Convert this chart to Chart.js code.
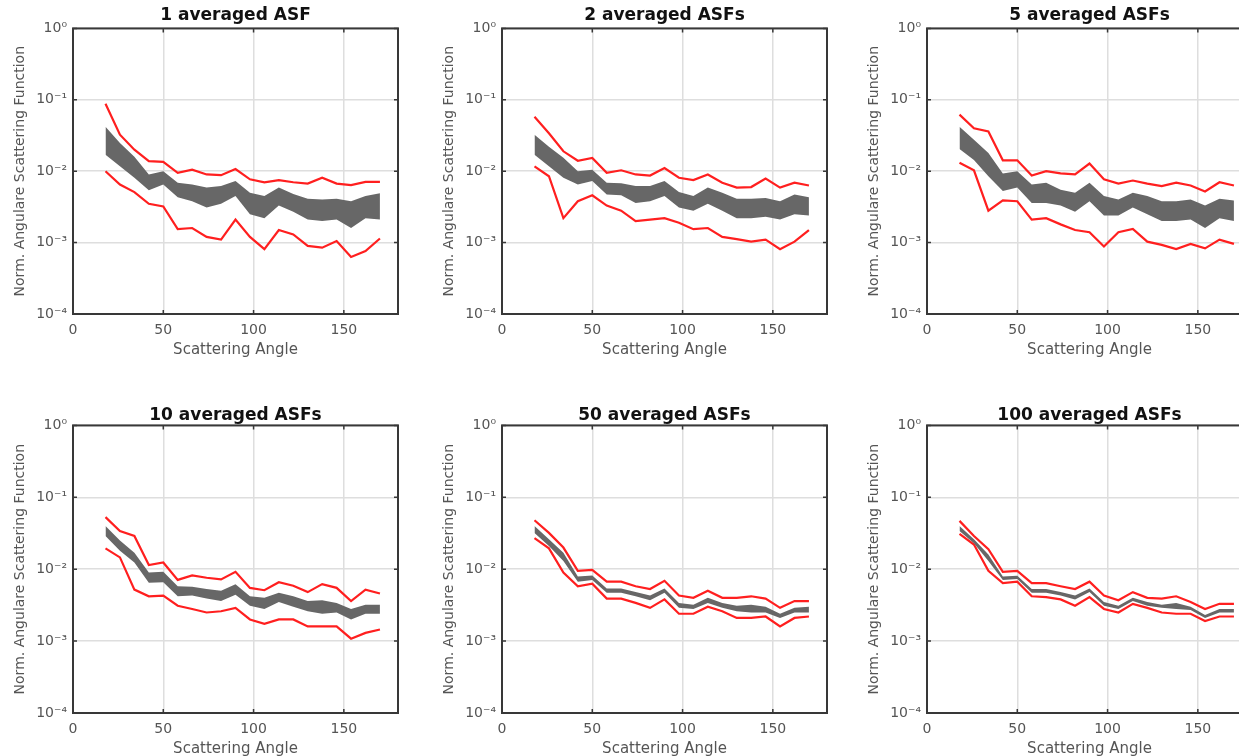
<!DOCTYPE html>
<html>
<head>
<meta charset="utf-8">
<title>Averaged ASF comparison</title>
<script src="https://cdn.jsdelivr.net/npm/chart.js@4.4.1/dist/chart.umd.min.js"></script>
<style>
  html, body { margin: 0; padding: 0; background: #fff; overflow: hidden; }
  #wrap { position: relative; width: 1239px; height: 756px; overflow: hidden; }
  #wrap canvas { position: absolute; }
</style>
</head>
<body>
<div id="wrap"></div>
<script>
// scattering angles (deg)
const angles = [18, 26, 34, 42, 50, 58, 66, 74, 82, 90, 98, 106, 114, 122, 130, 138, 146, 154, 162, 170];

const yTicks = [1e-4, 1e-3, 1e-2, 1e-1, 1];
const yTickLabels = ['10⁻⁴', '10⁻³', '10⁻²', '10⁻¹', '10⁰'];
const xTicks = [0, 50, 100, 150];

const titles = ['1 averaged ASF', '2 averaged ASFs', '5 averaged ASFs', '10 averaged ASFs', '50 averaged ASFs', '100 averaged ASFs'];

// 1 averaged
const asf1Max = [0.088, 0.0325, 0.020, 0.0138, 0.0135, 0.0095, 0.0105, 0.0090, 0.0088, 0.0107, 0.0077, 0.0070, 0.0075, 0.0070, 0.0067, 0.0081, 0.0067, 0.0064, 0.0071, 0.0071];
const asf1Min = [0.0100, 0.0065, 0.0051, 0.0035, 0.0032, 0.00154, 0.0016, 0.0012, 0.0011, 0.0021, 0.0012, 0.00081, 0.0015, 0.0013, 0.00090, 0.00085, 0.00105, 0.00063, 0.00076, 0.00114];
const asf1BandHi = [0.042, 0.0248, 0.016, 0.0090, 0.010, 0.0069, 0.0065, 0.0059, 0.0062, 0.0073, 0.0050, 0.0045, 0.0059, 0.0048, 0.0041, 0.0040, 0.0041, 0.0038, 0.0045, 0.0049];
const asf1BandLo = [0.017, 0.0117, 0.0081, 0.0054, 0.0065, 0.0043, 0.0038, 0.0031, 0.0035, 0.0045, 0.0025, 0.0022, 0.0033, 0.0027, 0.0021, 0.0020, 0.0021, 0.0016, 0.0022, 0.0021];

// 2 averaged
const asf2Max = [0.058, 0.034, 0.019, 0.014, 0.0153, 0.0095, 0.0103, 0.0090, 0.0087, 0.0111, 0.0081, 0.0075, 0.0090, 0.0069, 0.0059, 0.0060, 0.0079, 0.0059, 0.0069, 0.0063];
const asf2Min = [0.0117, 0.0085, 0.0022, 0.0038, 0.0046, 0.0033, 0.0028, 0.0020, 0.0021, 0.0022, 0.0019, 0.00154, 0.0016, 0.0012, 0.00112, 0.00103, 0.0011, 0.00081, 0.00103, 0.0015];
const asf2BandHi = [0.0323, 0.022, 0.0154, 0.010, 0.0105, 0.0069, 0.0068, 0.0062, 0.0062, 0.0073, 0.0051, 0.0045, 0.0059, 0.0050, 0.0041, 0.0041, 0.0042, 0.0038, 0.0047, 0.0043];
const asf2BandLo = [0.017, 0.0117, 0.0081, 0.0065, 0.0073, 0.0047, 0.0046, 0.0036, 0.0038, 0.0045, 0.0031, 0.0028, 0.0035, 0.0028, 0.0022, 0.0022, 0.0023, 0.0021, 0.0025, 0.0024];

// 5 averaged
const asf5Max = [0.062, 0.040, 0.036, 0.0142, 0.0142, 0.0087, 0.010, 0.0093, 0.009, 0.0128, 0.0077, 0.0067, 0.0074, 0.0067, 0.0062, 0.0069, 0.0063, 0.0052, 0.0070, 0.0063];
const asf5Min = [0.0131, 0.0103, 0.0028, 0.0039, 0.0038, 0.0021, 0.0022, 0.0018, 0.0015, 0.0014, 0.00088, 0.0014, 0.00155, 0.00103, 0.00093, 0.00081, 0.00096, 0.00083, 0.0011, 0.00096];
const asf5BandHi = [0.042, 0.0276, 0.018, 0.0093, 0.010, 0.0065, 0.0069, 0.0055, 0.0050, 0.0069, 0.0045, 0.0040, 0.0050, 0.0045, 0.0038, 0.0038, 0.0040, 0.0033, 0.0041, 0.0039];
const asf5BandLo = [0.0205, 0.0144, 0.0085, 0.0053, 0.0059, 0.0036, 0.0036, 0.0033, 0.0027, 0.0038, 0.0024, 0.0024, 0.0031, 0.0025, 0.0020, 0.0020, 0.0021, 0.0016, 0.0022, 0.0020];

// 10 averaged
const asf10Max = [0.053, 0.034, 0.029, 0.0114, 0.0124, 0.0071, 0.0082, 0.0076, 0.0072, 0.0092, 0.0055, 0.0051, 0.0066, 0.0059, 0.0048, 0.0062, 0.0055, 0.0036, 0.0052, 0.0046];
const asf10Min = [0.0195, 0.0146, 0.0052, 0.0042, 0.0043, 0.0031, 0.0028, 0.0025, 0.0026, 0.0029, 0.0020, 0.00174, 0.0020, 0.0020, 0.0016, 0.0016, 0.0016, 0.00108, 0.0013, 0.00145];
const asf10BandHi = [0.040, 0.025, 0.017, 0.0090, 0.0092, 0.0058, 0.0057, 0.0053, 0.0050, 0.0062, 0.0042, 0.0040, 0.0047, 0.0042, 0.0036, 0.0037, 0.0034, 0.0028, 0.0032, 0.0032];
const asf10BandLo = [0.029, 0.018, 0.0124, 0.0065, 0.0066, 0.0042, 0.0043, 0.0039, 0.0036, 0.0044, 0.0031, 0.0028, 0.0035, 0.0030, 0.0026, 0.0024, 0.0025, 0.0020, 0.0024, 0.0024];

// 50 averaged
const asf50Max = [0.048, 0.032, 0.020, 0.0095, 0.0098, 0.0067, 0.0067, 0.0058, 0.0053, 0.0069, 0.0043, 0.0040, 0.0050, 0.0040, 0.0040, 0.0042, 0.0039, 0.0029, 0.0036, 0.0036];
const asf50Min = [0.027, 0.0195, 0.0090, 0.0058, 0.0063, 0.0039, 0.0039, 0.0034, 0.0029, 0.0038, 0.0024, 0.0024, 0.0030, 0.0026, 0.0021, 0.0021, 0.0022, 0.0016, 0.0021, 0.0022];
const asf50BandHi = [0.040, 0.026, 0.017, 0.0079, 0.0082, 0.0054, 0.0054, 0.0048, 0.0043, 0.0054, 0.0034, 0.0032, 0.0040, 0.0034, 0.0031, 0.0032, 0.0030, 0.0024, 0.0029, 0.0030];
const asf50BandLo = [0.032, 0.021, 0.0130, 0.0067, 0.0071, 0.0047, 0.0047, 0.0042, 0.0037, 0.0047, 0.0029, 0.0028, 0.0034, 0.0029, 0.0026, 0.0025, 0.0025, 0.0021, 0.0025, 0.0025];

// 100 averaged
const asf100Max = [0.047, 0.029, 0.019, 0.0092, 0.0095, 0.0064, 0.0064, 0.0058, 0.0053, 0.0067, 0.0043, 0.0037, 0.0048, 0.0040, 0.0039, 0.0042, 0.0035, 0.0028, 0.0033, 0.0033];
const asf100Min = [0.031, 0.022, 0.0095, 0.0064, 0.0067, 0.0042, 0.0041, 0.0038, 0.0031, 0.0041, 0.0028, 0.0025, 0.0033, 0.0029, 0.0025, 0.0024, 0.0024, 0.0019, 0.0022, 0.0022];
const asf100BandHi = [0.040, 0.026, 0.016, 0.0079, 0.0081, 0.0053, 0.0053, 0.0048, 0.0043, 0.0054, 0.0035, 0.0031, 0.0040, 0.0035, 0.0032, 0.0034, 0.0030, 0.0023, 0.0028, 0.0028];
const asf100BandLo = [0.034, 0.023, 0.013, 0.0071, 0.0073, 0.0047, 0.0047, 0.0043, 0.0038, 0.0048, 0.0031, 0.0028, 0.0036, 0.0031, 0.0029, 0.0028, 0.0027, 0.0021, 0.0025, 0.0025];

const panels = [
  { max: asf1Max, min: asf1Min, bandHi: asf1BandHi, bandLo: asf1BandLo },
  { max: asf2Max, min: asf2Min, bandHi: asf2BandHi, bandLo: asf2BandLo },
  { max: asf5Max, min: asf5Min, bandHi: asf5BandHi, bandLo: asf5BandLo },
  { max: asf10Max, min: asf10Min, bandHi: asf10BandHi, bandLo: asf10BandLo },
  { max: asf50Max, min: asf50Min, bandHi: asf50BandHi, bandLo: asf50BandLo },
  { max: asf100Max, min: asf100Min, bandHi: asf100BandHi, bandLo: asf100BandLo }
];

// canvas placement on the page
const slots = [
  { left: 0, top: 0, height: 378, titlePad: { top: 5, bottom: 3 } },
  { left: 429, top: 0, height: 378, titlePad: { top: 5, bottom: 3 } },
  { left: 854, top: 0, height: 378, titlePad: { top: 5, bottom: 3 } },
  { left: 0, top: 397, height: 380, titlePad: { top: 8, bottom: 0 } },
  { left: 429, top: 397, height: 380, titlePad: { top: 8, bottom: 0 } },
  { left: 854, top: 397, height: 380, titlePad: { top: 8, bottom: 0 } }
];

Chart.defaults.font.family = '"DejaVu Sans", "Liberation Sans", sans-serif';

const toPoints = arr => arr.map((v, i) => ({ x: angles[i], y: v }));

// MATLAB style box with inward ticks on all sides
const boxPlugin = {
  id: 'matlabBox',
  afterDatasetsDraw(chart) {
    const { ctx, chartArea: a, scales } = chart;
    ctx.save();
    ctx.strokeStyle = '#383838';
    ctx.lineWidth = 1.5;
    ctx.beginPath();
    scales.x.ticks.forEach(t => {
      const px = scales.x.getPixelForValue(t.value);
      ctx.moveTo(px, a.bottom); ctx.lineTo(px, a.bottom - 4);
      ctx.moveTo(px, a.top); ctx.lineTo(px, a.top + 4);
    });
    scales.y.ticks.forEach(t => {
      const py = scales.y.getPixelForValue(t.value);
      ctx.moveTo(a.left, py); ctx.lineTo(a.left + 4, py);
      ctx.moveTo(a.right, py); ctx.lineTo(a.right - 4, py);
    });
    ctx.stroke();
    ctx.lineWidth = 2;
    ctx.strokeRect(a.left, a.top, a.right - a.left, a.bottom - a.top);
    ctx.restore();
  }
};

const wrap = document.getElementById('wrap');

panels.forEach((p, i) => {
  const slot = slots[i];
  const canvas = document.createElement('canvas');
  canvas.width = 408;
  canvas.height = slot.height;
  canvas.style.left = slot.left + 'px';
  canvas.style.top = slot.top + 'px';
  wrap.appendChild(canvas);

  new Chart(canvas.getContext('2d'), {
    type: 'line',
    data: {
      datasets: [
        { data: toPoints(p.bandLo), borderWidth: 0, pointRadius: 0, fill: false, borderColor: 'rgba(0,0,0,0)' },
        { data: toPoints(p.bandHi), borderWidth: 0, pointRadius: 0, fill: '-1', borderColor: 'rgba(0,0,0,0)', backgroundColor: '#676767' },
        { data: toPoints(p.max), borderColor: '#ff1f1f', borderWidth: 2.2, pointRadius: 0, fill: false },
        { data: toPoints(p.min), borderColor: '#ff1f1f', borderWidth: 2.2, pointRadius: 0, fill: false }
      ]
    },
    options: {
      responsive: false,
      animation: false,
      devicePixelRatio: 1,
      layout: { padding: { left: 0, right: 10, top: 0, bottom: 0 } },
      plugins: {
        legend: { display: false },
        tooltip: { enabled: false },
        title: {
          display: true,
          fullSize: false,
          text: titles[i],
          color: '#111',
          font: { size: 17, weight: 'bold' },
          padding: slot.titlePad
        }
      },
      scales: {
        x: {
          type: 'linear',
          min: 0,
          max: 180,
          afterBuildTicks: s => { s.ticks = xTicks.map(v => ({ value: v })); },
          afterFit: s => { s.height = 64; },
          grid: { color: '#dedede', lineWidth: 1.5, drawTicks: false },
          border: { display: false },
          ticks: { color: '#555', font: { size: 14 }, padding: 8, maxRotation: 0 },
          title: { display: true, text: 'Scattering Angle', color: '#555', font: { size: 15 }, padding: { top: 0, bottom: 19 } }
        },
        y: {
          type: 'logarithmic',
          min: 1e-4,
          max: 1,
          afterBuildTicks: s => { s.ticks = yTicks.map(v => ({ value: v })); },
          afterFit: s => { s.width = 73; },
          grid: { color: '#dedede', lineWidth: 1.5, drawTicks: false },
          border: { display: false },
          ticks: { color: '#555', font: { size: 14 }, padding: 6, callback: (v, idx) => yTickLabels[idx] },
          title: { display: true, text: 'Norm. Angulare Scattering Function', color: '#555', font: { size: 14 }, padding: { top: 12, bottom: 0 } }
        }
      }
    },
    plugins: [boxPlugin]
  });
});
</script>
</body>
</html>
